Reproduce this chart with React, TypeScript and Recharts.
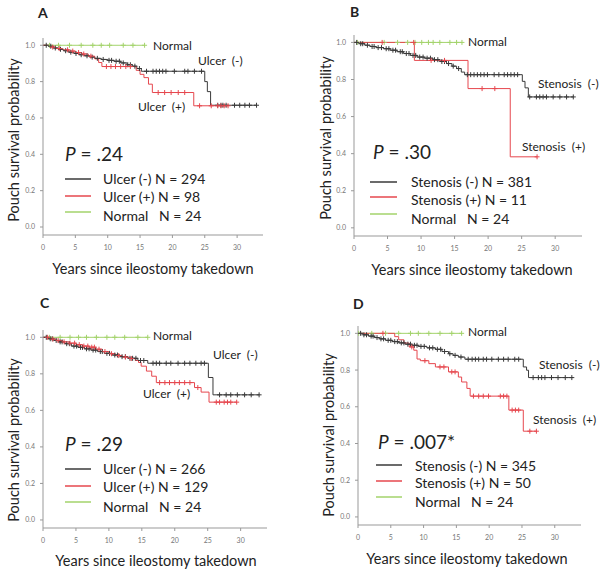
import React from 'react';
import { ComposedChart, Line, XAxis, YAxis } from 'recharts';

type Step = [number, number];

// Panel A: ulcer vs. no ulcer
const aUlcerNeg: Step[] = [
  [0, 1], [0.8, 0.995], [1.6, 0.985], [2.4, 0.978], [3.2, 0.97], [4, 0.962], [4.8, 0.955], [5.6, 0.948],
  [6.4, 0.942], [7.2, 0.935], [8, 0.928], [9, 0.922], [10, 0.917], [11, 0.912], [12, 0.903], [13, 0.893],
  [13.8, 0.885], [14.5, 0.872], [15.2, 0.857], [25.0, 0.8], [25.4, 0.745], [25.9, 0.67],
];
const aUlcerNegEnd = 33;
const aUlcerNegCens = [0.5, 1.2, 1.9, 2.7, 3.5, 4.3, 5.1, 5.9, 6.8, 7.6, 8.4, 9.3, 10.2, 10.6, 11.3, 11.8, 12.4, 13.1, 13.5, 14.2, 14.9, 16, 17, 17.5, 18, 18.5, 19, 20.3, 21.9, 22.4, 23.4, 24.5, 27, 27.5, 27.8, 28.3, 29.6, 30.4, 31.2, 31.9, 33];
const aUlcerPos: Step[] = [
  [0, 1], [1, 0.99], [2, 0.982], [3, 0.975], [4, 0.968], [5, 0.96], [6, 0.952], [7, 0.94], [8, 0.925],
  [8.6, 0.905], [9.1, 0.883], [14.4, 0.862], [15, 0.84], [15.6, 0.822], [16.3, 0.786], [16.9, 0.74], [23.3, 0.667],
];
const aUlcerPosEnd = 28.6;
const aUlcerPosCens = [1.5, 2.5, 3.8, 4.6, 5.5, 6.3, 7.4, 9.8, 10.5, 11.2, 12, 12.8, 13.5, 17.8, 18.8, 19.8, 20.9, 21.9, 24.2, 26, 27, 27.5, 28, 28.6];
const aNormal: Step[] = [[0, 1]];
const aNormalEnd = 15.7;
const aNormalCens = [1, 2.4, 4.1, 5.9, 7.7, 9, 10.3, 12.4, 13.9, 15.7];

// Panel B: stenosis vs. no stenosis
const bStenNeg: Step[] = [
  [0, 1], [0.8, 0.993], [1.6, 0.985], [2.4, 0.978], [3.3, 0.972], [4.4, 0.966], [5.4, 0.958], [6.4, 0.95],
  [7.4, 0.94], [8.4, 0.93], [9.4, 0.921], [10.5, 0.915], [11.8, 0.907], [12.8, 0.897], [13.8, 0.886],
  [14.6, 0.872], [15.3, 0.859], [16, 0.84], [16.5, 0.826], [25.1, 0.79], [25.5, 0.755], [26, 0.706],
];
const bStenNegEnd = 32.7;
const bStenNegCens = [0.4, 1, 1.3, 2, 2.7, 3, 3.6, 4.1, 4.8, 5.2, 5.8, 6.2, 6.9, 7.2, 7.8, 8.2, 8.8, 9.2, 9.8, 10.3, 10.9, 11.4, 12, 12.5, 13.1, 13.5, 14.1, 14.8, 15.6, 16.9, 17.4, 17.9, 18.4, 18.9, 19.4, 19.9, 20.9, 21.6, 22.4, 22.9, 23.4, 23.9, 24.4, 26.2, 27.2, 27.7, 28.2, 28.7, 29.7, 30.7, 31.7, 32.7];
const bStenPos: Step[] = [[0, 1], [9, 0.903], [17, 0.751], [23.3, 0.383]];
const bStenPosEnd = 27.3;
const bStenPosCens = [4.2, 8.9, 11.5, 13.5, 19.1, 21, 27.3];
const bNormal: Step[] = [[0, 1]];
const bNormalEnd = 16.1;
const bNormalCens = [0.5, 4.5, 6.5, 8, 9.1, 10.1, 11.1, 11.8, 12.8, 14.3, 15.3, 16.1];

// Panel C: ulcer vs. no ulcer (second cohort)
const cUlcerNeg: Step[] = [
  [0, 1], [0.8, 0.992], [1.6, 0.983], [2.4, 0.975], [3.3, 0.965], [4.3, 0.952], [5.3, 0.945], [6.3, 0.937],
  [7.3, 0.93], [8.3, 0.922], [9.3, 0.912], [10.5, 0.903], [11.7, 0.894], [12.9, 0.885], [14.4, 0.873],
  [15.9, 0.858], [25.1, 0.78], [25.8, 0.685],
];
const cUlcerNegEnd = 32.8;
const cUlcerNegCens = [0.5, 1.1, 1.4, 2, 2.6, 2.9, 3.6, 4, 4.7, 5.1, 5.7, 6, 6.6, 7, 7.6, 8, 8.7, 9, 9.7, 10.1, 10.9, 11.3, 12, 12.5, 13.2, 13.6, 14.1, 14.8, 15.3, 16.7, 17.2, 17.7, 18.7, 19.4, 20.5, 21.5, 22.3, 23.2, 24, 24.5, 26.8, 27.8, 28.5, 29.5, 30.6, 31.6, 32.8];
const cUlcerPos: Step[] = [
  [0, 1], [1, 0.99], [2, 0.982], [3, 0.975], [4, 0.968], [5, 0.96], [6, 0.952], [7, 0.946], [8, 0.935],
  [9, 0.922], [10, 0.91], [11, 0.9], [12, 0.892], [13, 0.884], [14, 0.873], [14.5, 0.862], [14.9, 0.842],
  [15.7, 0.815], [16.5, 0.787], [17.2, 0.752], [23.0, 0.725], [24.0, 0.7], [25.2, 0.645],
];
const cUlcerPosEnd = 29.4;
const cUlcerPosCens = [0.7, 1.5, 2.3, 3.2, 4.1, 4.8, 5.5, 6.2, 6.8, 7.4, 7.8, 8.5, 9.4, 10.4, 11.5, 12.5, 13.4, 17.7, 18.5, 19.2, 20, 20.7, 21.5, 22.3, 23.5, 26.3, 26.8, 27.5, 28, 28.5, 29.4];
const cNormal: Step[] = [[0, 1]];
const cNormalEnd = 15.9;
const cNormalCens = [1, 2.6, 4.1, 5.4, 6.6, 8.1, 9.7, 10.9, 12.4, 14.4, 15.9];

// Panel D: stenosis vs. no stenosis (second cohort)
const dStenNeg: Step[] = [
  [0, 1], [0.8, 0.992], [1.6, 0.985], [2.5, 0.977], [3.3, 0.97], [4.2, 0.962], [5.2, 0.955], [6.2, 0.948],
  [7.2, 0.941], [8.2, 0.935], [9.2, 0.929], [10.5, 0.921], [11.8, 0.913], [12.8, 0.901], [13.8, 0.889],
  [14.5, 0.88], [15.3, 0.871], [16.3, 0.859], [25.2, 0.817], [25.7, 0.799], [26, 0.759],
];
const dStenNegEnd = 32.8;
const dStenNegCens = [0.4, 0.9, 1.3, 2, 2.3, 2.9, 3.5, 3.9, 4.6, 5, 5.6, 6, 6.6, 7, 7.6, 8, 8.6, 9, 9.6, 10.1, 10.9, 11.4, 12.1, 12.6, 13.2, 14, 14.8, 15.7, 16.8, 17.4, 17.9, 18.4, 19.1, 19.6, 20.4, 21.4, 22.2, 22.9, 23.9, 24.5, 26.7, 27.5, 28, 28.5, 29.5, 30.5, 31.6, 32.6];
const dStenPos: Step[] = [
  [0, 1], [5.6, 0.982], [6.2, 0.965], [7, 0.947], [7.8, 0.926], [8.5, 0.908], [9, 0.86], [9.5, 0.851],
  [10.8, 0.835], [11.8, 0.817], [13.8, 0.79], [15.3, 0.762], [15.8, 0.735], [16.6, 0.7], [17.1, 0.658],
  [23, 0.582], [25.2, 0.467],
];
const dStenPosEnd = 27.2;
const dStenPosCens = [3.8, 8.2, 10.2, 12.5, 13.1, 14.3, 14.8, 17.6, 18.4, 19.1, 19.9, 21.7, 22.2, 22.7, 23.5, 24, 24.5, 26.2, 27.2];
const dNormal: Step[] = [[0, 1]];
const dNormalEnd = 15.8;
const dNormalCens = [0.1, 2.1, 4.2, 6.2, 8, 9.2, 10.8, 12.5, 14.3, 15.8];

const xTicks = [0, 5, 10, 15, 20, 25, 30];
const yTicks = [0, 0.2, 0.4, 0.6, 0.8, 1.0];

const legendA = ['Ulcer (-) N = 294', 'Ulcer (+) N = 98', 'Normal   N = 24'];
const legendB = ['Stenosis (-) N = 381', 'Stenosis (+) N = 11', 'Normal   N = 24'];
const legendC = ['Ulcer (-) N = 266', 'Ulcer (+) N = 129', 'Normal   N = 24'];
const legendD = ['Stenosis (-) N = 345', 'Stenosis (+) N = 50', 'Normal   N = 24'];
const pValues = ['.24', '.30', '.29', '.007*'];

const BLACK = '#3a3a3a';
const RED = '#e6474e';
const GREEN = '#a3d36b';
const FONT = "Lato, 'Open Sans', sans-serif";

interface Pt { t: number; s: number; c: boolean }

// merge the KM steps with the censoring times, censors sit on the curve
const buildCurve = (steps: Step[], end: number, cens: number[]): Pt[] => {
  const sAt = (t: number) => {
    let s = steps[0][1];
    for (const [st, sv] of steps) if (st <= t) s = sv;
    return s;
  };
  const pts: Pt[] = steps.map(([t, s]) => ({ t, s, c: false }));
  cens.forEach((t) => pts.push({ t, s: sAt(t), c: true }));
  if (!cens.includes(end)) pts.push({ t: end, s: sAt(end), c: false });
  pts.sort((a, b) => a.t - b.t || Number(a.c) - Number(b.c));
  return pts;
};

const censorDot = (color: string) => (props: any) => {
  const { cx, cy, payload, index } = props;
  if (!payload || !payload.c || cx == null || cy == null) return <g key={index} />;
  return (
    <g key={index} stroke={color} strokeWidth={1}>
      <line x1={cx - 2.5} x2={cx + 2.5} y1={cy} y2={cy} />
      <line x1={cx} x2={cx} y1={cy - 2.5} y2={cy + 2.5} />
    </g>
  );
};

interface Curve { data: Pt[]; color: string }

interface PanelProps { L: number; T: number; W: number; H: number; curves: Curve[] }

const Panel = ({ L, T, W, H, curves }: PanelProps) => (
  <div style={{ position: 'absolute', left: 0, top: 0 }}>
    <ComposedChart
      width={600}
      height={573}
      margin={{ left: L - 24, top: T, right: 600 - L - W, bottom: 573 - T - H - 20 }}
    >
      <XAxis
        type='number'
        dataKey='t'
        domain={[0, 34]}
        ticks={xTicks}
        allowDataOverflow
        height={20}
        tickSize={3}
        tickMargin={7}
        tick={{ fontSize: 7, fill: '#777', fontFamily: FONT }}
        tickLine={{ stroke: '#999' }}
        axisLine={{ stroke: '#999' }}
      />
      <YAxis
        type='number'
        dataKey='s'
        domain={[-0.044, 1.04]}
        ticks={yTicks}
        allowDataOverflow
        width={24}
        tickSize={3}
        tickMargin={5}
        tickFormatter={(v: number) => v.toFixed(1)}
        tick={{ fontSize: 7, fill: '#777', fontFamily: FONT }}
        tickLine={{ stroke: '#999' }}
        axisLine={{ stroke: '#999' }}
      />
      {curves.map((c, i) => (
        <Line
          key={i}
          data={c.data}
          dataKey='s'
          type='stepAfter'
          stroke={c.color}
          strokeWidth={1}
          dot={censorDot(c.color)}
          activeDot={false}
          isAnimationActive={false}
        />
      ))}
    </ComposedChart>
  </div>
);

interface Overlay {
  letter: string; lx: number; ly: number;
  labels: { text: string; x: number; y: number }[];
  p: string; px: number; py: number;
  legend: string[]; legX1: number; legX2: number; legText: number; legY: number[]; legTextY: number[];
  xTitle: number; xTitleY: number; yTitleX: number; yTitleY: number;
}

const overlays: Overlay[] = [
  {
    letter: 'A', lx: 38, ly: 18,
    labels: [{ text: 'Normal', x: 153, y: 50 }, { text: 'Ulcer  (-)', x: 198, y: 65 }, { text: 'Ulcer  (+)', x: 138, y: 111 }],
    p: pValues[0], px: 65, py: 161,
    legend: legendA, legX1: 65, legX2: 91, legText: 103, legY: [179, 196, 212], legTextY: [179, 197, 216],
    xTitle: 153, xTitleY: 274, yTitleX: 19, yTitleY: 140,
  },
  {
    letter: 'B', lx: 350, ly: 17,
    labels: [{ text: 'Normal', x: 468, y: 46 }, { text: 'Stenosis  (-)', x: 538, y: 88 }, { text: 'Stenosis  (+)', x: 522, y: 151 }],
    p: pValues[1], px: 373, py: 159,
    legend: legendB, legX1: 370, legX2: 397, legText: 411, legY: [182, 197, 214], legTextY: [182, 200, 219],
    xTitle: 472, xTitleY: 275, yTitleX: 331, yTitleY: 138,
  },
  {
    letter: 'C', lx: 40, ly: 308,
    labels: [{ text: 'Normal', x: 153, y: 340 }, { text: 'Ulcer  (-)', x: 213, y: 359 }, { text: 'Ulcer  (+)', x: 143, y: 398 }],
    p: pValues[2], px: 65, py: 451,
    legend: legendC, legX1: 65, legX2: 91, legText: 103, legY: [469, 486, 502], legTextY: [469, 487, 507],
    xTitle: 156, xTitleY: 566, yTitleX: 19, yTitleY: 440,
  },
  {
    letter: 'D', lx: 353, ly: 309,
    labels: [{ text: 'Normal', x: 468, y: 336 }, { text: 'Stenosis  (-)', x: 539, y: 369 }, { text: 'Stenosis  (+)', x: 533, y: 424 }],
    p: pValues[3], px: 378, py: 449,
    legend: legendD, legX1: 376, legX2: 402, legText: 415, legY: [465, 481, 497], legTextY: [466, 483, 502],
    xTitle: 467, xTitleY: 564, yTitleX: 334, yTitleY: 435,
  },
];

const legendColors = [BLACK, RED, GREEN];

export default function App() {
  const panels: PanelProps[] = [
    {
      L: 43, T: 38, W: 220, H: 197,
      curves: [
        { data: buildCurve(aNormal, aNormalEnd, aNormalCens), color: GREEN },
        { data: buildCurve(aUlcerNeg, aUlcerNegEnd, aUlcerNegCens), color: BLACK },
        { data: buildCurve(aUlcerPos, aUlcerPosEnd, aUlcerPosCens), color: RED },
      ],
    },
    {
      L: 354, T: 35, W: 228, H: 201,
      curves: [
        { data: buildCurve(bNormal, bNormalEnd, bNormalCens), color: GREEN },
        { data: buildCurve(bStenNeg, bStenNegEnd, bStenNegCens), color: BLACK },
        { data: buildCurve(bStenPos, bStenPosEnd, bStenPosCens), color: RED },
      ],
    },
    {
      L: 43, T: 330, W: 224, H: 198,
      curves: [
        { data: buildCurve(cNormal, cNormalEnd, cNormalCens), color: GREEN },
        { data: buildCurve(cUlcerNeg, cUlcerNegEnd, cUlcerNegCens), color: BLACK },
        { data: buildCurve(cUlcerPos, cUlcerPosEnd, cUlcerPosCens), color: RED },
      ],
    },
    {
      L: 358, T: 326, W: 223, H: 199,
      curves: [
        { data: buildCurve(dNormal, dNormalEnd, dNormalCens), color: GREEN },
        { data: buildCurve(dStenNeg, dStenNegEnd, dStenNegCens), color: BLACK },
        { data: buildCurve(dStenPos, dStenPosEnd, dStenPosCens), color: RED },
      ],
    },
  ];

  return (
    <div style={{ position: 'absolute', left: 0, top: 0, width: 600, height: 573, background: '#fff', overflow: 'hidden' }}>
      {panels.map((p, i) => (
        <Panel key={i} {...p} />
      ))}
      <svg width={600} height={573} style={{ position: 'absolute', left: 0, top: 0, pointerEvents: 'none' }} fontFamily={FONT}>
        {overlays.map((o, i) => (
          <g key={i} fill='#222'>
            <text x={o.lx} y={o.ly} fontSize={14} fontWeight='bold'>{o.letter}</text>
            {o.labels.map((l, j) => (
              <text key={j} x={l.x} y={l.y} fontSize={12} style={{ whiteSpace: 'pre' }}>{l.text}</text>
            ))}
            <text x={o.px} y={o.py} fontSize={19}>
              <tspan fontStyle='italic'>P</tspan> = {o.p}
            </text>
            {o.legend.map((t, j) => (
              <g key={j}>
                <line x1={o.legX1} x2={o.legX2} y1={o.legY[j]} y2={o.legY[j]} stroke={legendColors[j]} strokeWidth={1.5} />
                <text x={o.legText} y={o.legTextY[j] + 5} fontSize={14} style={{ whiteSpace: 'pre' }}>{t}</text>
              </g>
            ))}
            <text x={o.xTitle} y={o.xTitleY} fontSize={14.5} textAnchor='middle'>Years since ileostomy takedown</text>
            <text
              x={o.yTitleX}
              y={o.yTitleY}
              fontSize={14.5}
              textAnchor='middle'
              transform={`rotate(-90 ${o.yTitleX} ${o.yTitleY})`}
            >
              Pouch survival probability
            </text>
          </g>
        ))}
      </svg>
    </div>
  );
}
